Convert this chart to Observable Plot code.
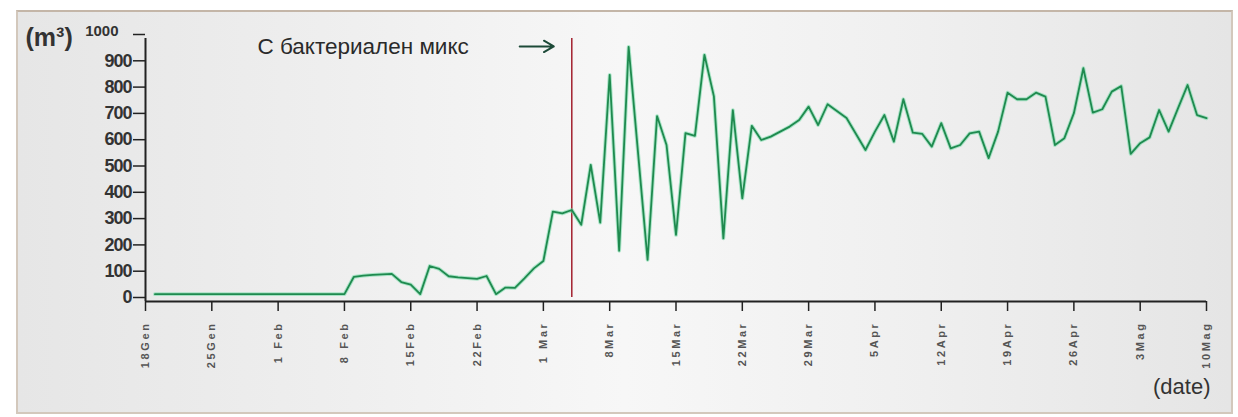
<!DOCTYPE html>
<html>
<head>
<meta charset="utf-8">
<script src="https://cdn.jsdelivr.net/npm/d3@7"></script>
<script src="https://cdn.jsdelivr.net/npm/@observablehq/plot@0.6"></script>
<style>
  html, body { margin: 0; padding: 0; background: #ffffff; }
  #wrap { position: relative; width: 1238px; height: 417px; overflow: hidden; }
  #frame {
    position: absolute; left: 16px; top: 10px; width: 1213px; height: 400px;
    border: 2px solid #d3c8bc; border-top-color: #c4b6a8;
    background: linear-gradient(to right, #e6e6e6 0%, #eeeeee 25%, #f7f7f7 50%, #efefef 75%, #e5e5e5 100%);
  }
  #chart { position: absolute; left: 0; top: 0; }
  g[aria-label="x-axis tick label"] text { letter-spacing: 2.6px; }
  g[aria-label="y-axis tick label"] text { letter-spacing: -1px; }
</style>
</head>
<body>
<div id="wrap"><div id="frame"></div><div id="chart"></div></div>
<script>
// ---- data ----
const dates = [
  "2010-01-19","2010-02-08","2010-02-09","2010-02-10","2010-02-11","2010-02-12","2010-02-13",
  "2010-02-14","2010-02-15","2010-02-16","2010-02-17","2010-02-18","2010-02-19","2010-02-20",
  "2010-02-21","2010-02-22","2010-02-23","2010-02-24","2010-02-25","2010-02-26","2010-02-27",
  "2010-02-28","2010-03-01","2010-03-02","2010-03-03","2010-03-04","2010-03-05","2010-03-06",
  "2010-03-07","2010-03-08","2010-03-09","2010-03-10","2010-03-12","2010-03-13","2010-03-14",
  "2010-03-15","2010-03-16","2010-03-17","2010-03-18","2010-03-19","2010-03-20","2010-03-21",
  "2010-03-22","2010-03-23","2010-03-24","2010-03-25","2010-03-27","2010-03-28","2010-03-29",
  "2010-03-30","2010-03-31","2010-04-02","2010-04-04","2010-04-05","2010-04-06","2010-04-07",
  "2010-04-08","2010-04-09","2010-04-10","2010-04-11","2010-04-12","2010-04-13","2010-04-14",
  "2010-04-15","2010-04-16","2010-04-17","2010-04-18","2010-04-19","2010-04-20","2010-04-21",
  "2010-04-22","2010-04-23","2010-04-24","2010-04-25","2010-04-26","2010-04-27","2010-04-28",
  "2010-04-29","2010-04-30","2010-05-01","2010-05-02","2010-05-03","2010-05-04","2010-05-05",
  "2010-05-06","2010-05-07","2010-05-08","2010-05-09","2010-05-10"
];
const volumes = [
  28, 28, 94, 98, 101, 103, 105,
  74, 64, 28, 135, 124, 96, 92,
  89, 86, 97, 28, 53, 52, 88,
  126, 154, 342, 335, 348, 292, 519,
  300, 862, 193, 968, 158, 705, 595,
  253, 640, 630, 938, 780, 240, 728,
  392, 668, 614, 627, 665, 690, 741,
  671, 750, 698, 576, 646, 709, 608,
  769, 642, 637, 589, 678, 582, 595,
  639, 646, 545, 646, 794, 769, 769,
  794, 779, 595, 621, 716, 887, 718,
  731, 798, 819, 561, 602, 624, 728,
  646, 735, 823, 709, 697
];
const xTickDates = [
  "2010-01-18","2010-01-25","2010-02-01","2010-02-08","2010-02-15","2010-02-22","2010-03-01",
  "2010-03-08","2010-03-15","2010-03-22","2010-03-29","2010-04-05","2010-04-12","2010-04-19",
  "2010-04-26","2010-05-03","2010-05-10"
];
const xTickLabels = [
  "18Gen","25Gen","1 Feb","8 Feb","15Feb","22Feb","1 Mar",
  "8Mar","15Mar","22Mar","29Mar","5Apr","12Apr","19Apr",
  "26Apr","3Mag","10Mag"
];
const yTicks = [0, 100, 200, 300, 400, 500, 600, 700, 800, 900];
const yTop = 1000;
const eventDate = "2010-03-04";
const eventLabel = "С бактериален микс";
const yUnit = "(m³)";
const xUnit = "(date)";

// ---- build ----
const parse = d3.utcParse("%Y-%m-%d");
const data = dates.map((d, i) => ({date: parse(d), value: volumes[i]}));
const tickTimes = xTickDates.map(parse);
const labelMap = new Map(tickTimes.map((t, i) => [+t, xTickLabels[i]]));
const ev = parse(eventDate);
const xStart = tickTimes[0], xEnd = tickTimes[tickTimes.length - 1];
const day = 864e5;

const chart = Plot.plot({
  width: 1238,
  height: 417,
  marginLeft: 145,
  marginRight: 32,
  marginTop: 38,
  marginBottom: 116,
  style: {background: "transparent", fontFamily: "Liberation Sans, Arial, sans-serif", overflow: "visible"},
  x: {type: "utc", domain: [xStart, xEnd]},
  y: {domain: [0, yTop]},
  marks: [
    // axis lines
    Plot.ruleX([xStart], {y1: 0, y2: yTop, stroke: "#222", strokeWidth: 2}),
    Plot.ruleY([0], {x1: xStart, x2: xEnd, stroke: "#222", strokeWidth: 2}),
    // y axis
    Plot.axisY({ticks: yTicks.concat([yTop]), tickFormat: d => (d === yTop ? "" : String(d)),
      tickSize: 12, tickPadding: 2, fontSize: 18, fontWeight: "bold", dy: -4,
      stroke: "#222", strokeWidth: 1.5, fill: "#333", label: null}),
    Plot.text([yTop], {x: xStart, y: d => d, text: d => String(d), textAnchor: "end",
      dx: -27, dy: -7, fontSize: 15, fontWeight: "bold", fill: "#333", letterSpacing: "-0.5px"}),
    // x axis
    Plot.axisX({ticks: tickTimes, tickFormat: d => labelMap.get(+d), tickRotate: -90,
      tickSize: 10, tickPadding: 10, fontSize: 11, fontWeight: "bold",
      stroke: "#222", strokeWidth: 1.5, fill: "#555", label: null}),
    // event line
    Plot.ruleX([ev], {y1: 15, y2: yTop, stroke: "#a3202e", strokeWidth: 1.5}),
    // data line
    Plot.line(data, {x: "date", y: "value", stroke: "#6fd8a4", strokeWidth: 3.8, strokeOpacity: 0.55}),
    Plot.line(data, {x: "date", y: "value", stroke: "#1f8a4f", strokeWidth: 1.8}),
    // annotation
    Plot.text([eventLabel], {x: ev, y: yTop, text: d => d, textAnchor: "end",
      dx: -103, dy: 8, fontSize: 22.5, fill: "#2a2a2a"}),
    Plot.arrow([ev], {x1: d => new Date(+d - 5.5 * day), x2: d => new Date(+d - 1.9 * day),
      y1: 970, y2: 970, stroke: "#1d4a38", strokeWidth: 2, headLength: 9}),
    // unit labels
    Plot.text([yUnit], {x: xStart, y: yTop, text: d => d, textAnchor: "start", dx: -120, dy: -1,
      fontSize: 25, fontWeight: "bold", fill: "#333"}),
    Plot.text([xUnit], {x: xEnd, y: 0, text: d => d, textAnchor: "end", dx: 4, dy: 85,
      fontSize: 22, fill: "#333"})
  ]
});
document.getElementById("chart").appendChild(chart);
</script>
</body>
</html>
